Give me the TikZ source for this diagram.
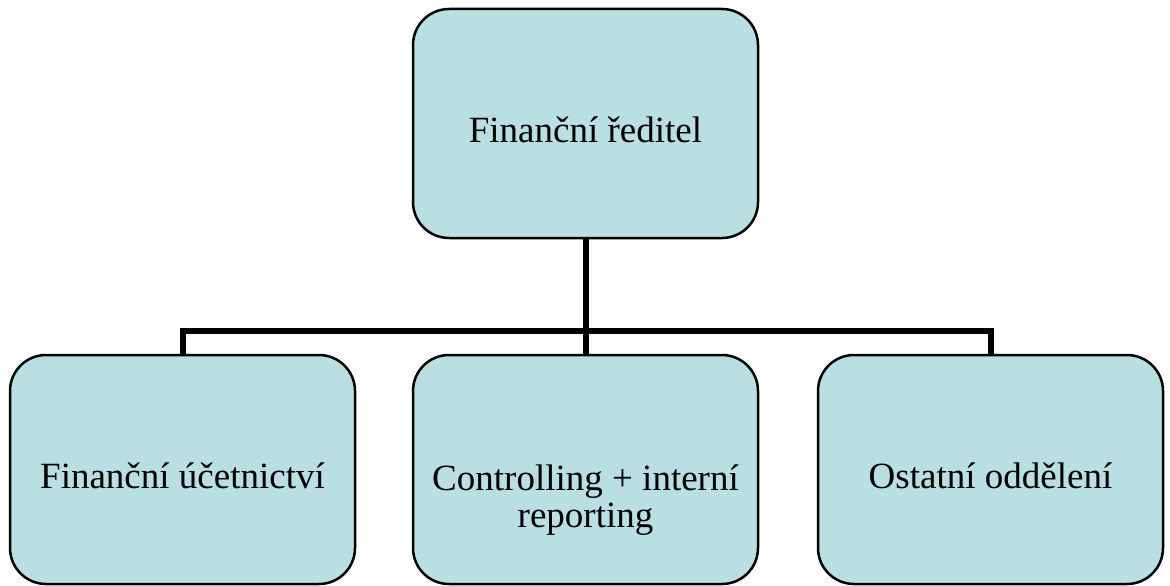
\documentclass[tikz,border=0pt]{standalone}
\usepackage{fontspec}
\setmainfont{Liberation Serif}
\definecolor{boxfill}{RGB}{185,223,227}
\begin{document}
\begin{tikzpicture}[x=1pt,y=-1pt,
  orgbox/.style={draw=black, line width=2.5pt, fill=boxfill, rounded corners=36pt,
    minimum width=345pt, minimum height=229pt, inner sep=0pt, align=center,
    font=\fontsize{37}{37}\selectfont, text height=38pt, text depth=0pt},
  link/.style={draw=black, line width=6pt, line join=miter}]
\useasboundingbox (0,0) rectangle (1170,586);
\node[orgbox] (top) at (585.5,123.5) {Finanční ředitel};
\node[orgbox] (left) at (182.5,469.5) {Finanční účetnictví};
\node[orgbox, text height=115pt] (mid) at (585.5,469.5) {Controlling + interní\\reporting};
\node[orgbox] (right) at (990.5,469.5) {Ostatní oddělení};
\coordinate (j) at (585.5,331);
\draw[link] (top.south) -- (j);
\draw[link] (left.north) |- (j) -| (right.north);
\draw[link] (j) -- (mid.north);
\end{tikzpicture}
\end{document}
